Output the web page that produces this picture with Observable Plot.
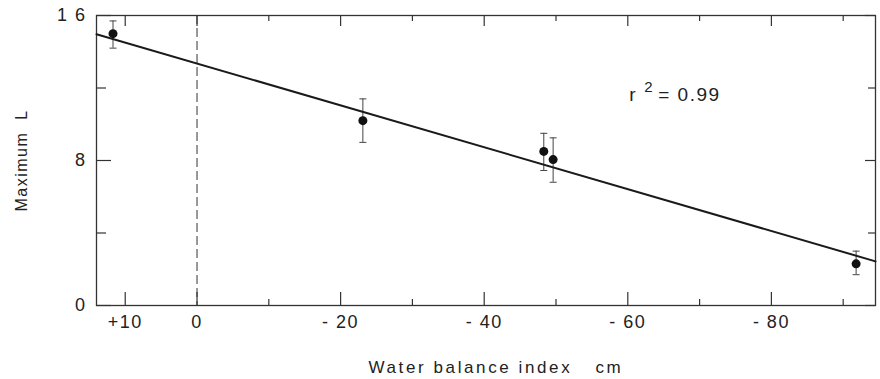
<!DOCTYPE html>
<html>
<head>
<meta charset="utf-8">
<script src="https://cdn.jsdelivr.net/npm/d3@7"></script>
<script src="https://cdn.jsdelivr.net/npm/@observablehq/plot@0.6"></script>
<style>
  body { margin: 0; background: #fff; }
  svg text { letter-spacing: 1.5px; white-space: pre; }
  svg g.title-wide text { letter-spacing: 2.6px; }
</style>
</head>
<body>
<div id="chart"></div>
<script>
// ---- data ----
const waterIndex = [11.7, -23.1, -48.3, -49.6, -91.8];   // cm
const maxL       = [15.0, 10.2, 8.5, 8.05, 2.3];
const errLow     = [14.2, 9.0, 7.45, 6.8, 1.7];
const errHigh    = [15.7, 11.4, 9.5, 9.25, 3.0];

const fitIntercept = 13.35;
const fitSlope = 0.1155;

const xDomain = [14, -94.5];
const yDomain = [0, 16];

const xMajorTicks = [10, 0, -20, -40, -60, -80];
const xTickLabels = ["+10", "0", "- 20", "- 40", "- 60", "- 80"];
const xMinorTicks = [-10, -30, -50, -70, -90];
const yMajorTicks = [0, 8, 16];
const yTickLabels = ["0", "8", "1 6"];
const yMinorTicks = [4, 12];

const refLineX = [0];
const annotationAt = [{x: -60.2, y: 11.6}];
const xTitle = "Water balance index";
const xUnit = "cm";
const yTitle = "Maximum  L";

// ---- layout ----
const W = 880, H = 379;
const mt = 15, mb = 74, ml = 96, mr = 5;
const plotH = H - mt - mb, plotW = W - ml - mr;
const ink = "#222";

const points = waterIndex.map((x, i) => ({x, y: maxL[i], lo: errLow[i], hi: errHigh[i]}));
const fitLine = xDomain.map(x => ({x, y: fitIntercept + fitSlope * x}));
const xLabelOf = new Map(xMajorTicks.map((v, i) => [v, xTickLabels[i]]));
const yLabelOf = new Map(yMajorTicks.map((v, i) => [v, yTickLabels[i]]));

const cap = {draw(ctx) { ctx.moveTo(-3.5, 0); ctx.lineTo(3.5, 0); }};
const wide = (i, s, v, d, c, next) => { const g = next(i, s, v, d, c); g.classList.add("title-wide"); return g; };

const chart = Plot.plot({
  width: W, height: H,
  marginTop: mt, marginBottom: mb, marginLeft: ml, marginRight: mr,
  style: {fontFamily: "'Liberation Sans', Arial, sans-serif", color: ink, background: "#fff", overflow: "visible"},
  x: {domain: xDomain},
  y: {domain: yDomain},
  marks: [
    Plot.frame({stroke: "#333", strokeWidth: 1.3}),
    Plot.ruleX(refLineX, {x: d => d, stroke: "#333", strokeWidth: 1, strokeDasharray: "9,4"}),
    // inward ticks, x
    Plot.tickX(xMajorTicks, {x: d => d, insetTop: plotH - 13, stroke: "#333", strokeWidth: 1.2}),
    Plot.tickX(xMajorTicks, {x: d => d, insetBottom: plotH - 11, stroke: "#333", strokeWidth: 1.2}),
    Plot.tickX(xMinorTicks, {x: d => d, insetTop: plotH - 6, stroke: "#333", strokeWidth: 1.2}),
    Plot.tickX(xMinorTicks, {x: d => d, insetBottom: plotH - 6, stroke: "#333", strokeWidth: 1.2}),
    // inward ticks, y
    Plot.tickY(yMajorTicks, {y: d => d, insetRight: plotW - 15, stroke: "#333", strokeWidth: 1.2}),
    Plot.tickY(yMajorTicks, {y: d => d, insetLeft: plotW - 10, stroke: "#333", strokeWidth: 1.2}),
    Plot.tickY(yMinorTicks, {y: d => d, insetRight: plotW - 10, stroke: "#333", strokeWidth: 1.2}),
    Plot.tickY(yMinorTicks, {y: d => d, insetLeft: plotW - 7, stroke: "#333", strokeWidth: 1.2}),
    // tick labels
    Plot.axisX(xMajorTicks, {tickSize: 0, tickPadding: 10, tickFormat: d => xLabelOf.get(d), fontSize: 18, label: null, fill: ink}),
    Plot.axisY(yMajorTicks, {tickSize: 0, tickPadding: 10, tickFormat: d => yLabelOf.get(d), fontSize: 18, label: null, fill: ink}),
    // axis titles
    Plot.text([yTitle], {text: d => d, frameAnchor: "left", textAnchor: "middle", rotate: -90, dx: -75, dy: 0, fontSize: 16, fill: ink}),
    Plot.text([xTitle], {text: d => d, frameAnchor: "bottom-left", textAnchor: "start", dx: 272, dy: 62, fontSize: 17, fill: ink, lineAnchor: "middle", render: wide}),
    Plot.text([xUnit], {text: d => d, frameAnchor: "bottom-left", textAnchor: "start", dx: 499, dy: 62, fontSize: 17, fill: ink, lineAnchor: "middle", render: wide}),
    // error bars
    Plot.ruleX(points, {x: "x", y1: "lo", y2: "hi", stroke: "#444", strokeWidth: 1}),
    Plot.dot(points, {x: "x", y: "lo", symbol: cap, fill: "none", stroke: "#444", strokeWidth: 1}),
    Plot.dot(points, {x: "x", y: "hi", symbol: cap, fill: "none", stroke: "#444", strokeWidth: 1}),
    // regression line
    Plot.line(fitLine, {x: "x", y: "y", stroke: "#1a1a1a", strokeWidth: 2}),
    // points
    Plot.dot(points, {x: "x", y: "y", r: 4.5, fill: "#111", stroke: "none"}),
    // annotation r^2 = 0.99
    Plot.text(annotationAt, {x: "x", y: "y", text: () => "r", textAnchor: "start", fontSize: 19, fill: ink}),
    Plot.text(annotationAt, {x: "x", y: "y", text: () => "2", textAnchor: "start", dx: 15, dy: -8, fontSize: 15, fill: ink}),
    Plot.text(annotationAt, {x: "x", y: "y", text: () => "= 0.99", textAnchor: "start", dx: 29, fontSize: 19, fill: ink})
  ]
});
document.getElementById("chart").appendChild(chart);
</script>
</body>
</html>
